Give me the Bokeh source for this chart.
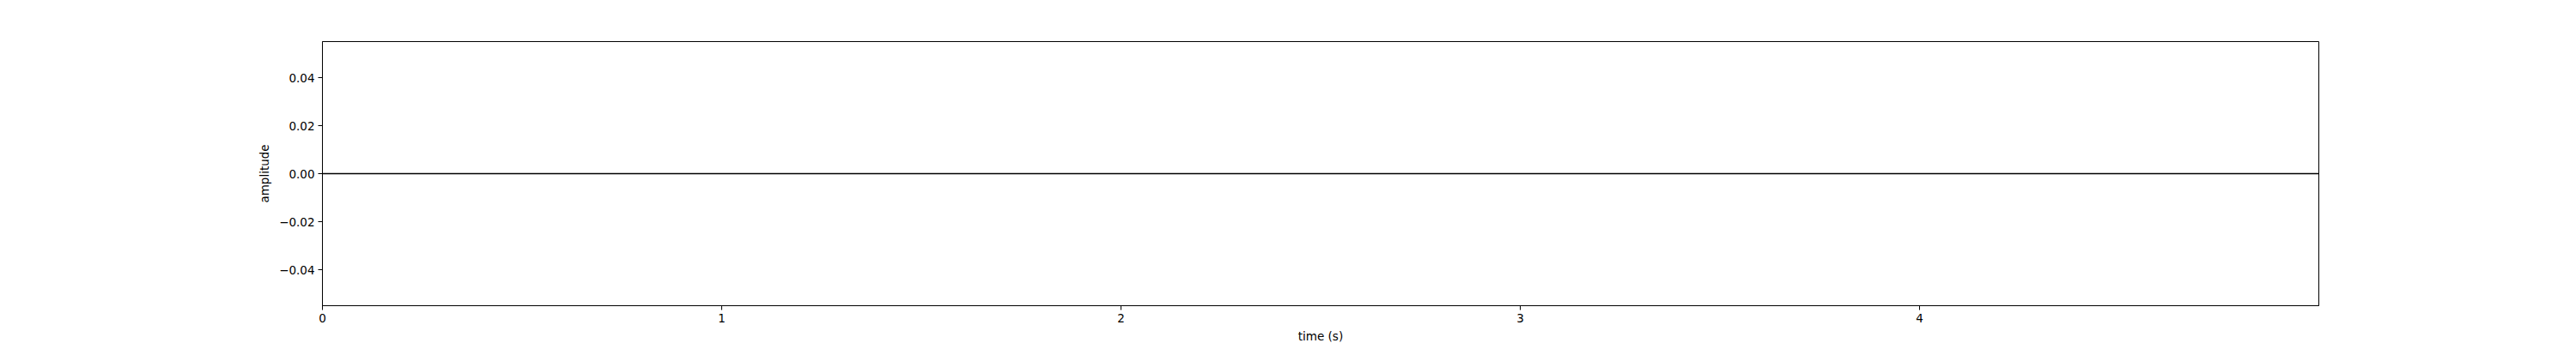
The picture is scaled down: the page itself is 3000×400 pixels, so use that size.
from bokeh.plotting import figure
from bokeh.models import Range1d, FixedTicker, CustomJSTickFormatter
from bokeh.embed import file_html
from bokeh.resources import INLINE

# data: a silent (flat) signal sampled over 5 seconds
time_s = [0.0, 0.5, 1.0, 1.5, 2.0, 2.5, 3.0, 3.5, 4.0, 4.5, 5.0]
amplitude = [0.0, 0.0, 0.0, 0.0, 0.0, 0.0, 0.0, 0.0, 0.0, 0.0, 0.0]
x_ticks = [0, 1, 2, 3, 4]
y_ticks = [-0.04, -0.02, 0.0, 0.02, 0.04]

FONT = "DejaVu Sans"

p = figure(
    frame_width=2325, frame_height=308,
    min_border_left=375, min_border_right=292,
    min_border_top=48, min_border_bottom=42,
    x_range=Range1d(0, 5), y_range=Range1d(-0.055, 0.055),
    output_backend="svg", toolbar_location=None,
)

p.line(time_s, amplitude, line_color="black", line_width=1.6)

p.grid.visible = False
p.outline_line_color = "black"
p.outline_line_width = 1
p.background_fill_color = "white"
p.border_fill_color = "white"

p.xaxis.ticker = FixedTicker(ticks=x_ticks)
p.yaxis.ticker = FixedTicker(ticks=y_ticks)
p.yaxis.formatter = CustomJSTickFormatter(code="""
    return (tick < -1e-12 ? '\u2212' : '') + Math.abs(tick).toFixed(2);
""")
p.xaxis.formatter = CustomJSTickFormatter(code="return tick.toFixed(0);")

for ax in (p.xaxis, p.yaxis):
    ax.axis_line_color = "black"
    ax.axis_line_width = 1
    ax.major_tick_in = 0
    ax.major_tick_out = 5
    ax.major_tick_line_color = "black"
    ax.major_tick_line_width = 1
    ax.minor_tick_line_color = None
    ax.major_label_text_font = FONT
    ax.major_label_text_font_size = "13.5px"
    ax.major_label_text_color = "black"
    ax.axis_label_text_font = FONT
    ax.axis_label_text_font_size = "13.5px"
    ax.axis_label_text_font_style = "normal"
    ax.axis_label_text_color = "black"

p.xaxis.axis_label = "time (s)"
p.yaxis.axis_label = "amplitude"
p.xaxis.major_label_standoff = 4
p.xaxis.axis_label_standoff = 5
p.yaxis.major_label_standoff = 4
p.yaxis.axis_label_standoff = 6

open("out.html", "w").write(file_html(p, INLINE))
